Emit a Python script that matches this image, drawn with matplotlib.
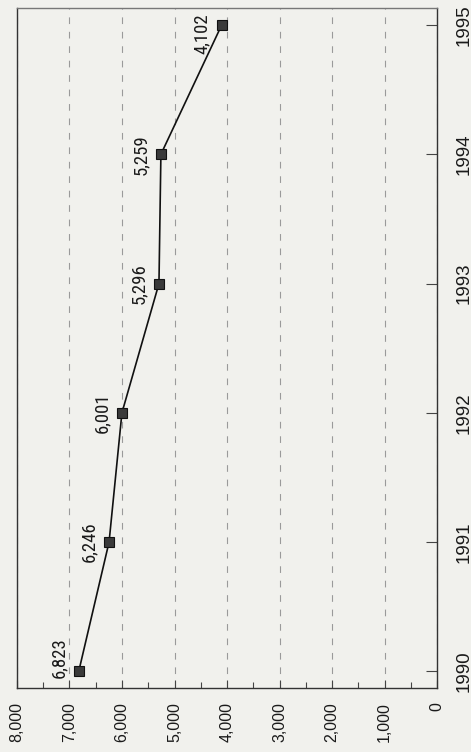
import matplotlib
matplotlib.use("Agg")
import matplotlib.pyplot as plt
from matplotlib.ticker import MultipleLocator
from matplotlib.font_manager import FontProperties

years = [1990, 1991, 1992, 1993, 1994, 1995]
values = [6823, 6246, 6001, 5296, 5259, 4102]
value_ticks = [0, 1000, 2000, 3000, 4000, 5000, 6000, 7000, 8000]
value_tick_labels = ["0", "1,000", "2,000", "3,000", "4,000", "5,000", "6,000", "7,000", "8,000"]
year_tick_labels = ["1990", "1991", "1992", "1993", "1994", "1995"]

bg = "#f1f1ed"
fig = plt.figure(figsize=(4.71, 7.52), dpi=100, facecolor=bg)
ax = fig.add_axes([0.036, 0.085, 0.892, 0.904])
ax.set_facecolor(bg)

# Chart is rotated: value axis horizontal (inverted), years vertical
ax.plot(values, years, color="#111111", lw=1.2, zorder=3)
ax.plot(values, years, ls="none", marker="s", ms=7, mfc="#3a3a3a", mec="#111111", mew=0.8, zorder=4)

ax.set_xlim(8000, 0)
ax.set_ylim(1989.87, 1995.13)

fp_val = FontProperties(family="Liberation Sans", stretch="normal", size=11.5)
fp_year = FontProperties(family="Liberation Sans", stretch="normal", size=13.5)

ax.set_xticks(value_ticks)
ax.set_xticklabels(value_tick_labels, rotation=90, fontproperties=fp_val, color="#1a1a1a")
ax.xaxis.set_minor_locator(MultipleLocator(500))
ax.tick_params(axis="x", which="major", direction="in", length=6, width=0.8, pad=10, color="#444444")
ax.tick_params(axis="x", which="minor", direction="in", length=4, width=0.8, color="#444444")

ax.yaxis.tick_right()
ax.set_yticks(years)
ax.set_yticklabels(year_tick_labels, rotation=90, fontproperties=fp_year, color="#1a1a1a", va="center")
ax.tick_params(axis="y", which="major", direction="in", length=8, width=0.8, pad=13, color="#444444")

for t in ax.get_xticklabels():
    t.set_va("top")
    t.set_ha("center")

ax.grid(axis="x", which="major", color="#9a9a9a", lw=0.8, ls=(0, (6, 7)))
ax.grid(axis="y", visible=False)

for s in ax.spines.values():
    s.set_color("#333333")
    s.set_linewidth(1.0)
ax.spines["top"].set_color("#777777")

label_shift = [9.5, 0, 0, 0, 0, -6.5]
for v, y, dy in zip(values, years, label_shift):
    ax.annotate(f"{v:,}", xy=(v, y), xytext=(-8, dy), textcoords="offset points",
                rotation=90, ha="right", va="center", fontsize=13.5,
                family=["Roboto Condensed", "Archivo Narrow", "Liberation Sans"], color="#1a1a1a", zorder=5)

fig.savefig("out.png", dpi=100, facecolor=bg)
